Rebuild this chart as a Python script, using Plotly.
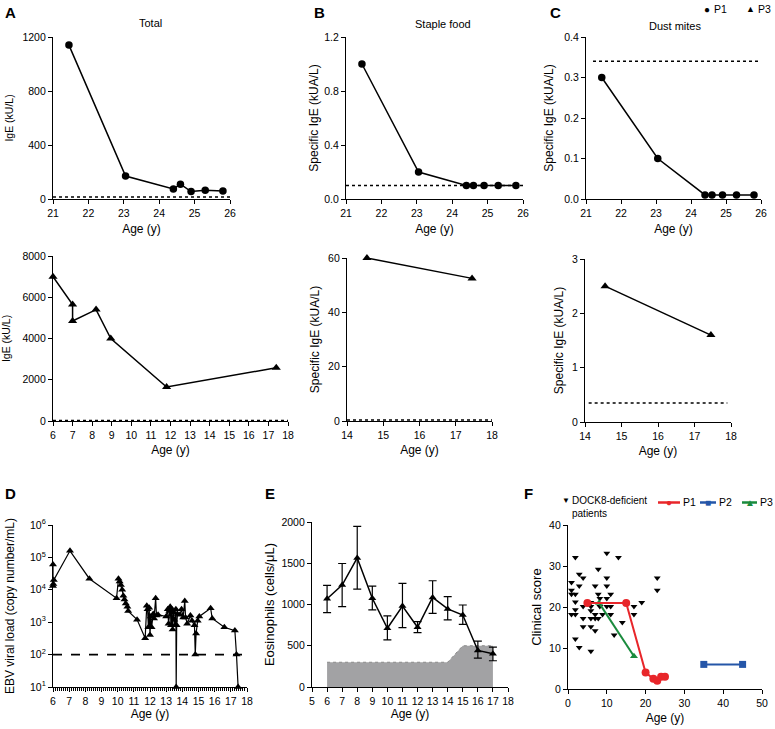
import plotly.graph_objects as go

W, H = 775, 729

# ---------------- data ----------------
# Panel A/B/C, P1 (circles)
p1_age = [21.45, 23.05, 24.4, 24.6, 24.9, 25.3, 25.8]
p1_total_ige = [1140, 170, 75, 110, 55, 65, 60]
p1_staple_ige = [1.0, 0.2, 0.1, 0.1, 0.1, 0.1, 0.1]
p1_mite_ige = [0.3, 0.1, 0.01, 0.01, 0.01, 0.01, 0.01]

# Panel A/B/C, P3 (triangles)
p3_total_age = [6.0, 7.0, 7.0, 8.2, 8.95, 11.8, 17.4]
p3_total_ige = [7000, 5650, 4850, 5400, 4000, 1650, 2580]
p3_spec_age = [14.55, 17.45]
p3_staple_ige = [60, 52.5]
p3_mite_ige = [2.5, 1.6]

# reference (normal) thresholds
thr_total_p1 = 15
thr_total_p3 = 30
thr_staple_p1 = 0.1
thr_staple_p3 = 0.35
thr_mite_p1 = 0.34
thr_mite_p3 = 0.35
thr_ebv = 100

# Panel D, EBV viral load (P3)
ebv_age = [6.0, 6.0, 6.02, 6.05, 7.05, 8.25, 9.93, 10.05, 10.12, 10.2, 10.28, 10.35,
           10.42, 10.5, 10.6, 10.65, 11.2, 11.7, 11.8, 11.85, 11.9, 11.95, 12.0, 12.05,
           12.1, 12.2, 12.25, 12.35, 12.4, 12.5, 13.0, 13.1, 13.15, 13.2, 13.25, 13.3,
           13.35, 13.4, 13.45, 13.5, 13.55, 13.6, 13.62, 13.65, 13.7, 13.85, 13.95, 14.05,
           14.15, 14.2, 14.3, 14.5, 14.6, 14.75, 14.8, 14.85, 14.95, 15.05, 15.75, 15.85,
           16.6, 17.25, 17.35, 17.45]
ebv_load = [60000, 13000, 15000, 20000, 160000, 22000, 5500, 22000, 18000, 14000, 10000, 6500,
            5000, 3800, 3000, 2200, 1200, 320, 3200, 2500, 700, 2800, 400, 1500,
            700, 1800, 1300, 5500, 1600, 1700, 1500, 2500, 900, 2200, 3000, 800,
            2500, 600, 2000, 1200, 800, 2500, 10, 800, 1800, 1700, 2500, 1400,
            4500, 1400, 900, 1600, 1100, 800, 100, 450, 1100, 1500, 2700, 1300,
            700, 550, 100, 10]

# Panel E, eosinophils (mean with error range)
eos_age = [6, 7, 8, 9, 10, 11, 12, 13, 14, 15, 16, 17]
eos_mean = [1070, 1235, 1565, 1075, 712, 982, 724, 1086, 946, 873, 443, 402]
eos_upper = [1231, 1497, 1948, 1223, 861, 1256, 793, 1288, 1095, 994, 555, 483]
eos_lower = [901, 974, 1187, 934, 571, 720, 660, 893, 813, 760, 350, 318]
eos_ref_age = [6, 14, 15, 17]
eos_ref_val = [300, 300, 500, 500]

# Panel F, clinical score
dock8_age = [0.9, 0.9, 0.9, 0.9,
             1.9, 1.9, 1.9, 1.9, 1.9, 1.9,
             2.9, 2.9, 2.9,
             3.9, 3.9, 3.9, 3.9,
             5.9, 5.9, 5.9, 5.9, 5.9, 5.9,
             7.0, 7.0, 7.0, 7.0,
             7.8, 7.8, 7.8,
             8.2, 8.2, 8.9,
             10.0, 10.0, 10.0, 10.0, 10.0,
             11.0, 11.0, 11.0,
             11.9, 13.0, 14.0, 17.0, 17.0, 19.0, 23.0, 23.0]
dock8_score = [26.0, 24.1, 23.1, 18.2,
               32.1, 23.1, 21.2, 19.3, 18.2, 12.2,
               28.0, 25.1, 10.1,
               27.1, 20.1, 17.2, 15.2,
               21.1, 20.1, 19.1, 17.2, 15.2, 9.2,
               25.1, 18.2, 17.2, 14.2,
               29.2, 23.1, 17.2,
               22.1, 20.1, 18.2,
               33.1, 27.1, 25.1, 22.1, 20.1,
               23.1, 20.1, 18.2,
               13.2, 32.1, 16.2, 20.1, 18.2, 21.1, 27.1, 24.1]
p1_score_age = [5, 15, 20, 22, 23, 24, 25]
p1_score = [21, 21, 4, 2.5, 2, 3, 3]
p2_score_age = [35, 45]
p2_score = [6, 6]
p3_score_age = [8, 17]
p3_score = [21, 8]

RED = '#e8262a'
BLUE = '#2556a8'
GREEN = '#1a8b3d'
FONT = 'Arial, Liberation Sans, sans-serif'

# ---------------- layout geometry (pixels) ----------------
# (x-range px, y-range px, y-title size, y-title standoff, x-title standoff)
panels = {
    1: ((53, 230), (37, 199), 10.5, 6, 6),
    2: ((346, 523), (37, 199), 12, 2, 6),
    3: ((586, 761), (37, 199), 12, 7, 6),
    4: ((53, 288), (256, 421), 10.5, 9, 5),
    5: ((347, 492), (258, 421), 12, 5, 5),
    6: ((585, 731), (259, 422), 12, 5, 5),
    7: ((53, 247), (525, 687), 12, 12, 1),
    8: ((312, 508), (522, 687), 13, 3, 1),
    9: ((568, 762), (525, 689), 13, 4, 5),
}


def ax(i):
    return ('x', 'y') if i == 1 else (f'x{i}', f'y{i}')


fig = go.Figure()


def line_trace(i, x, y, symbol, size=7, color='black', width=1.5, dash=None, mode='lines+markers'):
    xa, ya = ax(i)
    fig.add_trace(go.Scatter(
        x=x, y=y, xaxis=xa, yaxis=ya, mode=mode, showlegend=False,
        line=dict(color=color, width=width, dash=dash),
        marker=dict(symbol=symbol, size=size, color=color),
        cliponaxis=False, hoverinfo='skip'))


def ref_line(i, xr, val, dash='dot', width=1.5):
    xa, ya = ax(i)
    fig.add_trace(go.Scatter(
        x=list(xr), y=[val, val], xaxis=xa, yaxis=ya, mode='lines', showlegend=False,
        line=dict(color='black', width=width, dash=dash), cliponaxis=False, hoverinfo='skip'))


# A
ref_line(1, (21, 26), thr_total_p1)
line_trace(1, p1_age, p1_total_ige, 'circle', 7.5)
ref_line(4, (6, 18), thr_total_p3)
line_trace(4, p3_total_age, p3_total_ige, 'triangle-up', 8)
# B
ref_line(2, (21, 26), thr_staple_p1)
line_trace(2, p1_age, p1_staple_ige, 'circle', 7.5)
ref_line(5, (14, 18), thr_staple_p3)
line_trace(5, p3_spec_age, p3_staple_ige, 'triangle-up', 8)
# C
ref_line(3, (21.2, 26), thr_mite_p1)
line_trace(3, p1_age, p1_mite_ige, 'circle', 7.5)
ref_line(6, (14.1, 17.9), thr_mite_p3)
line_trace(6, p3_spec_age, p3_mite_ige, 'triangle-up', 8)
# D
ref_line(7, (6, 18), thr_ebv, dash='dash', width=1.8)
line_trace(7, ebv_age, ebv_load, 'triangle-up', 7, width=1.2)
# E
xa, ya = ax(8)
fig.add_trace(go.Scatter(
    x=eos_ref_age, y=eos_ref_val, xaxis=xa, yaxis=ya, mode='lines', fill='tozeroy',
    fillcolor='#a2a2a4', line=dict(color='#8a8a8a', width=1, dash='dot'),
    showlegend=False, hoverinfo='skip'))
fig.add_trace(go.Scatter(
    x=eos_age, y=eos_mean, xaxis=xa, yaxis=ya, mode='lines+markers', showlegend=False,
    line=dict(color='black', width=1.5),
    marker=dict(symbol='triangle-up', size=7, color='black'),
    error_y=dict(type='data', symmetric=False,
                 array=[u - m for u, m in zip(eos_upper, eos_mean)],
                 arrayminus=[m - l for m, l in zip(eos_mean, eos_lower)],
                 color='black', thickness=1.2, width=4),
    cliponaxis=False, hoverinfo='skip'))
# F
xa, ya = ax(9)
fig.add_trace(go.Scatter(
    x=dock8_age, y=dock8_score, xaxis=xa, yaxis=ya, mode='markers', showlegend=False,
    marker=dict(symbol='triangle-down', size=6, color='black'), cliponaxis=False, hoverinfo='skip'))
line_trace(9, p3_score_age, p3_score, 'triangle-up', 7, color=GREEN, width=2)
line_trace(9, p2_score_age, p2_score, 'square', 7, color=BLUE, width=2)
line_trace(9, p1_score_age, p1_score, 'circle', 8, color=RED, width=2)

# ---------------- axes ----------------
axis_common = dict(showline=True, linecolor='black', linewidth=1.2, ticks='outside', ticklen=4,
                   tickwidth=1.2, tickcolor='black', showgrid=False, zeroline=False,
                   automargin=False,
                   tickfont=dict(size=10.5, color='black', family=FONT))

xcfg = {
    1: dict(range=[21, 26], dtick=1),
    2: dict(range=[21, 26], dtick=1),
    3: dict(range=[21, 26], dtick=1),
    4: dict(range=[6, 18], dtick=1),
    5: dict(range=[14, 18], dtick=1),
    6: dict(range=[14, 18], dtick=1),
    7: dict(range=[6, 18], dtick=1,
            minor=dict(dtick=0.125, ticklen=2.5, tickcolor='black', ticks='outside', tickwidth=1)),
    8: dict(range=[5, 18], dtick=1),
    9: dict(range=[0, 50], dtick=10),
}
ycfg = {
    1: dict(range=[0, 1200], tickvals=[0, 400, 800, 1200]),
    2: dict(range=[0, 1.2], tickvals=[0, 0.4, 0.8, 1.2], tickformat='.1f'),
    3: dict(range=[0, 0.4], dtick=0.1, tickformat='.1f'),
    4: dict(range=[0, 8000], dtick=2000),
    5: dict(range=[0, 60], dtick=20),
    6: dict(range=[0, 3], dtick=1),
    7: dict(type='log', range=[1, 6], tickvals=[10, 100, 1000, 1e4, 1e5, 1e6],
            ticktext=['10<sup>1</sup>', '10<sup>2</sup>', '10<sup>3</sup>', '10<sup>4</sup>',
                      '10<sup>5</sup>', '10<sup>6</sup>']),
    8: dict(range=[0, 2000], dtick=500),
    9: dict(range=[0, 40], dtick=10),
}
ytitles = {
    1: 'IgE (kU/L)', 2: 'Specific IgE (kUA/L)', 3: 'Specific IgE (kUA/L)',
    4: 'IgE (kU/L)', 5: 'Specific IgE (kUA/L)', 6: 'Specific IgE (kUA/L)',
    7: 'EBV viral load (copy number/mL)', 8: 'Eosinophils (cells/\u03bcL)', 9: 'Clinical score',
}

layout = dict(width=W, height=H, margin=dict(l=0, r=0, t=0, b=0, autoexpand=False),
              paper_bgcolor='white', plot_bgcolor='white', showlegend=False,
              font=dict(family=FONT, color='black'))
for i, ((x0, x1), (y0, y1), ysize, ystand, xstand) in panels.items():
    xa_key = 'xaxis' if i == 1 else f'xaxis{i}'
    ya_key = 'yaxis' if i == 1 else f'yaxis{i}'
    xa, ya = ax(i)
    layout[xa_key] = dict(axis_common, domain=[x0 / W, x1 / W], anchor=ya,
                          title=dict(text='Age (y)', standoff=xstand,
                                     font=dict(size=12, color='black', family=FONT)),
                          **xcfg[i])
    layout[ya_key] = dict(axis_common, domain=[1 - y1 / H, 1 - y0 / H], anchor=xa,
                          title=dict(text=ytitles[i], standoff=ystand,
                                     font=dict(size=ysize, color='black', family=FONT)),
                          **ycfg[i])

fig.update_layout(**layout)


def px_ann(text, x, y, size=11, bold=False, xanchor='center', color='black', align='left'):
    fig.add_annotation(text=f'<b>{text}</b>' if bold else text, x=x / W, y=1 - y / H,
                       xref='paper', yref='paper', showarrow=False, xanchor=xanchor,
                       yanchor='middle', align=align, borderpad=0,
                       font=dict(size=size, color=color, family=FONT))


# panel letters
for letter, (lx, ly) in {'A': (4, 13), 'B': (313, 13), 'C': (549, 13),
                         'D': (4, 494), 'E': (264, 494), 'F': (523, 494)}.items():
    px_ann(letter, lx, ly, size=15, bold=True, xanchor='left')

# panel titles
px_ann('Total', 150, 23, size=11)
px_ann('Staple food', 443, 24, size=11)
px_ann('Dust mites', 675, 26, size=11)

# legend for A-C
px_ann('\u25cf', 707, 9, size=10)
px_ann('P1', 713, 9, size=10.5, xanchor='left')
px_ann('\u25b2', 750, 9, size=9)
px_ann('P3', 757, 9, size=10.5, xanchor='left')

# legend for F
px_ann('\u25bc', 566, 500, size=8)
px_ann('DOCK8-deficient<br>patients', 571, 507, size=10, xanchor='left')
for (lx0, lx1), col, sym, lab, tx in [((658, 680), RED, '\u25cf', 'P1', 682),
                                      ((700, 716), BLUE, '\u25a0', 'P2', 718),
                                      ((742, 757), GREEN, '\u25b2', 'P3', 759)]:
    fig.add_shape(type='line', xref='paper', yref='paper', x0=lx0 / W, x1=lx1 / W,
                  y0=1 - 502.5 / H, y1=1 - 502.5 / H, line=dict(color=col, width=2.5))
    px_ann(sym, (lx0 + lx1) / 2, 502, size=10, color=col)
    px_ann(lab, tx, 502, size=10.5, xanchor='left')

fig.write_html('out.html', config={'displayModeBar': False},
               post_script="document.body.style.margin='0';document.body.style.overflow='hidden';")
